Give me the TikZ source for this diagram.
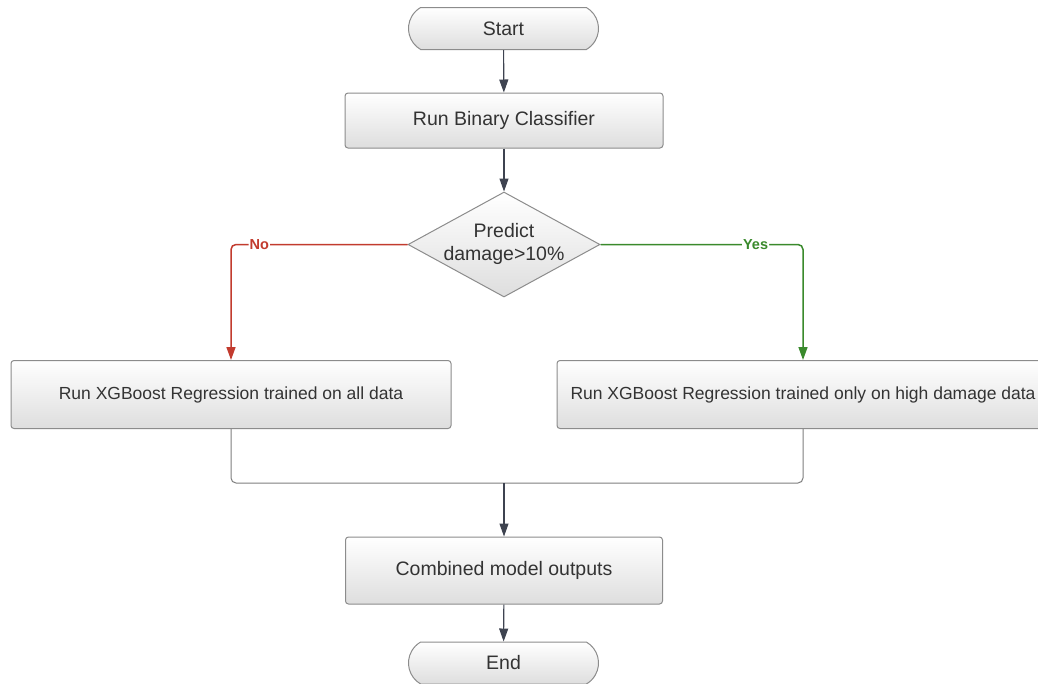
\documentclass[tikz,border=0pt]{standalone}
\usepackage{fontspec}
\setmainfont{Liberation Sans}
\usetikzlibrary{shapes.geometric,shapes.misc,arrows.meta}
\definecolor{txt}{HTML}{333333}
\definecolor{edgec}{HTML}{8C8C8C}
\definecolor{noc}{HTML}{C23B2E}
\definecolor{yesc}{HTML}{3A8A2C}
\definecolor{arr}{HTML}{3E4350}
\begin{document}
\begin{tikzpicture}[x=1pt,y=-1pt,
  shade base/.style={draw=edgec, line width=1pt, top color=white, bottom color=black!13,
    text=txt, font=\fontsize{19.5}{24}\selectfont, inner sep=0pt, align=center},
  procbox/.style={shade base, rectangle, rounded corners=3pt},
  widebox/.style={procbox, font=\fontsize{17.5}{22}\selectfont},
  term/.style={shade base, rounded rectangle, rounded rectangle arc length=120,
    minimum width=190pt, minimum height=42pt},
  decision/.style={shade base, diamond, minimum width=192pt, minimum height=105pt},
  flow/.style={draw=arr, line width=1.1pt, -{Triangle[length=13pt,width=9pt]}},
  plain/.style={draw=edgec!90!black, line width=1pt, rounded corners=5pt},
  nobranch/.style={draw=noc, line width=1.5pt, rounded corners=5pt, -{Triangle[length=13pt,width=9pt]}},
  yesbranch/.style={draw=yesc, line width=1.5pt, rounded corners=5pt, -{Triangle[length=13pt,width=9pt]}},
  lbl/.style={fill=white, inner sep=1pt, font=\bfseries\fontsize{14.5}{16}\selectfont}
]
\clip (0,0) rectangle (1038,683);
\fill[white] (0,0) rectangle (1038,683);

\node[term] (start) at (503.5,28.5) {Start};
\node[procbox, minimum width=318pt, minimum height=55pt] (bc) at (504,120.5) {Run Binary Classifier};
\node[decision] (dec) at (504,244.5) {\makebox[0pt]{\smash{\raisebox{-5pt}{\begin{tabular}{@{}c@{}}Predict\\[-1pt]damage>10\%\end{tabular}}}}};
\node[widebox, minimum width=440pt, minimum height=68pt] (left) at (231,394.5) {Run XGBoost Regression trained on all data};
\node[widebox, minimum width=492pt, minimum height=68pt] (right) at (803,394.5) {Run XGBoost Regression trained only on high damage data};
\node[procbox, minimum width=317pt, minimum height=67pt] (comb) at (504,570.5) {Combined model outputs};
\node[term] (end) at (503.5,663) {End};
\coordinate (join) at (504,483);

\draw[flow] (start) -- (bc);
\draw[flow] (bc) -- (dec);
\draw[nobranch] (dec.west) -| node[lbl, text=noc, pos=0.42] {No} (left.north);
\draw[yesbranch] (dec.east) -| node[lbl, text=yesc, pos=0.383] {Yes} (right.north);
\draw[plain] (left.south) |- (join) -| (right.south);
\draw[flow] (join) -- (comb);
\draw[flow] (comb) -- (end);
\end{tikzpicture}
\end{document}
